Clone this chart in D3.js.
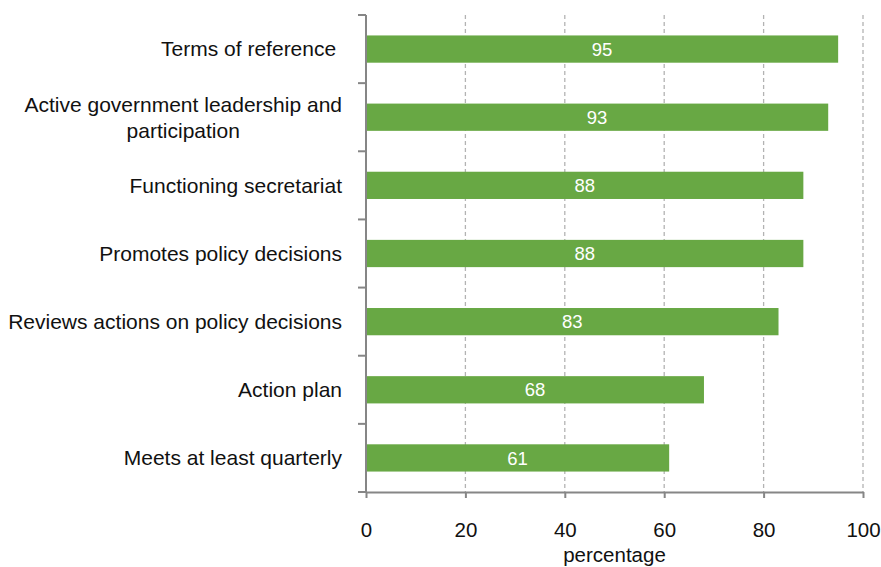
<!DOCTYPE html>
<html><head><meta charset="utf-8">
<script src="https://cdn.jsdelivr.net/npm/d3@7"></script>
<style>body{margin:0;background:#fff}text{font-family:"Liberation Sans",Arial,sans-serif}</style>
</head><body>
<svg id="c" width="881" height="567"></svg>
<script>
const categories = ["Terms of reference ", "Active government leadership and\nparticipation", "Functioning secretariat", "Promotes policy decisions", "Reviews actions on policy decisions", "Action plan", "Meets at least quarterly"];
const values = [95, 93, 88, 88, 83, 68, 61];
const xTicks = [0, 20, 40, 60, 80, 100];
const xTitle = "percentage";

const FS = 20.5;
const svg = d3.select("#c");
const m = {left: 366, right: 863, top: 15, bottom: 492};
const x = d3.scaleLinear().domain([0, 100]).range([m.left, m.right]);
const y = d3.scaleBand().domain(categories).range([m.top, m.bottom]).paddingInner(0.6).paddingOuter(0.3);

// grid
svg.append("g").selectAll("line").data(xTicks.slice(1)).join("line")
  .attr("x1", d => x(d)).attr("x2", d => x(d)).attr("y1", m.top).attr("y2", m.bottom)
  .attr("stroke", "#b3b3b3").attr("stroke-width", 1.3).attr("stroke-dasharray", "4,3");

// bars
svg.append("g").selectAll("rect").data(values).join("rect")
  .attr("x", x(0)).attr("y", (d, i) => y(categories[i]))
  .attr("width", d => x(d) - x(0)).attr("height", y.bandwidth())
  .attr("fill", "#68a844");

svg.append("g").selectAll("text").data(values).join("text")
  .attr("x", d => (x(0) + x(d)) / 2).attr("y", (d, i) => y(categories[i]) + y.bandwidth() / 2)
  .attr("dy", "0.36em").attr("text-anchor", "middle").attr("fill", "#fff")
  .attr("font-size", 18.5).text(d => d);

// x axis
const xa = svg.append("g").attr("transform", `translate(0,${m.bottom})`)
  .call(d3.axisBottom(x).tickValues(xTicks).tickSize(6).tickPadding(24).tickSizeOuter(0));
xa.select(".domain").attr("stroke", "#868686").attr("stroke-width", 2);
xa.selectAll(".tick line").attr("stroke", "#868686").attr("stroke-width", 2);
xa.selectAll("text").attr("font-size", FS).attr("fill", "#111").style("font-family", "Liberation Sans");

// y axis line and boundary ticks
const step = (m.bottom - m.top) / categories.length;
svg.append("line").attr("x1", m.left).attr("x2", m.left).attr("y1", m.top).attr("y2", m.bottom)
  .attr("stroke", "#868686").attr("stroke-width", 2);
svg.append("g").selectAll("line").data(d3.range(categories.length + 1)).join("line")
  .attr("x1", m.left - 8).attr("x2", m.left).attr("y1", i => m.top + i * step).attr("y2", i => m.top + i * step)
  .attr("stroke", "#868686").attr("stroke-width", 2);

// y labels
const lbl = svg.append("g").selectAll("text").data(categories).join("text")
  .attr("font-size", 21).attr("fill", "#111").attr("text-anchor", "end")
  .style("white-space", "pre");
lbl.each(function(d) {
  const lines = d.split("\n");
  const t = d3.select(this);
  const cy = y(d) + y.bandwidth() / 2;
  const lh = 26;
  if (lines.length === 1) {
    t.append("tspan").attr("x", 342).attr("y", cy).attr("dy", "0.35em").text(lines[0]);
  } else {
    t.attr("text-anchor", "middle");
    const tmp = t.append("tspan").attr("x", 0).attr("y", 0).text(lines[0]);
    const w = tmp.node().getComputedTextLength();
    tmp.remove();
    const cx = 342 - w / 2;
    lines.forEach((ln, k) => {
      t.append("tspan").attr("x", cx).attr("y", cy + (k - (lines.length - 1) / 2) * lh).attr("dy", "0.35em").text(ln);
    });
  }
});

svg.append("text").attr("x", x(50)).attr("y", 562).attr("text-anchor", "middle")
  .attr("font-size", FS).attr("fill", "#111").text(xTitle);
</script>
</body></html>
